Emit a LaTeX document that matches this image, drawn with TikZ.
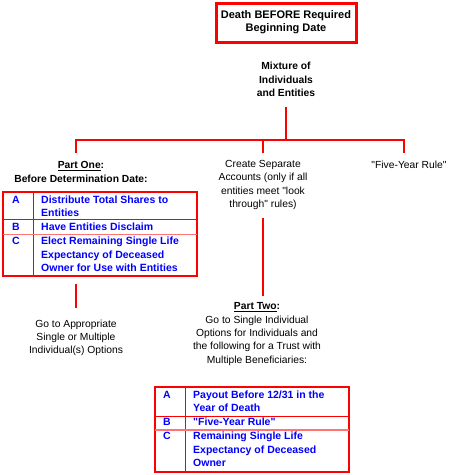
\documentclass[tikz,border=0pt]{standalone}
\usepackage{fontspec}
\setmainfont{Liberation Sans}[Ligatures=TeXOff]
\usetikzlibrary{positioning}

\begin{document}
\begin{tikzpicture}[x=1pt,y=-1pt,
    txt/.style={align=center,inner sep=0pt,font=\fontsize{10.3}{13.3}\selectfont},
    hd/.style={align=center,inner sep=0pt,font=\fontsize{10.3}{13.3}\selectfont\bfseries},
    cell/.style={anchor=west,align=left,inner sep=0pt,text=blue,font=\fontsize{10.5}{13.3}\selectfont\bfseries},
    link/.style={red,line width=2pt},
    grid/.style={red,line width=0.8pt}]
    \useasboundingbox (0,0) rectangle (450,475);
    % top of the chart
    \node[draw=red,line width=3pt,minimum width=140pt,minimum height=39pt,align=center,inner sep=0pt,font=\fontsize{11}{13.3}\selectfont\bfseries] (death) at (286,22.5) {Death BEFORE Required\\Beginning Date};
    \node[hd] (mix) at (286,79.5) {Mixture of\\Individuals\\and Entities};
    \coordinate (fork) at (286,140);
    \coordinate (one) at (76,153);
    \coordinate (sep) at (263,153);
    \coordinate (five) at (404,153);
    \draw[link] (fork |- 0,107) -- (fork);
    \draw[link] (one) |- (fork) -| (five);
    \draw[link] (sep) -- (sep |- fork);
        % three branches
        \node[hd] (partone) at (81,172) {\underline{Part One}:\\Before Determination Date:};
        \node[txt] (create) at (263,185) {Create Separate\\Accounts (only if all\\entities meet "look\\through" rules)};
        \node[txt] (rule) at (409,165) {"Five-Year Rule"};
        % table one
        \draw[red,line width=2pt] (3,192) rectangle (197,276);
        \draw[grid] (33,192) -- (33,276);
        \draw[grid] (3,219.5) -- (197,219.5);
        \draw[red!55,line width=1.2pt] (3,234.5) -- (197,234.5);
        \node[cell] (oneA) at (12,200) {A};
        \node[cell] (oneAt) at (41,206.5) {Distribute Total Shares to\\Entities};
        \node[cell] (oneB) at (12,227) {B};
        \node[cell] (oneBt) at (41,227) {Have Entities Disclaim};
        \node[cell] (oneC) at (12,241) {C};
        \node[cell] (oneCt) at (41,254.5) {Elect Remaining Single Life\\Expectancy of Deceased\\Owner for Use with Entities};
    \coordinate (down) at (263,296);
    \draw[link] (263,218) -- (down);
    \draw[link] (76,284) -- (76,308);
        \node[txt] (goto) at (76,338) {Go to Appropriate\\Single or Multiple\\Individual(s) Options};
        \node[txt] (parttwo) at (257,334) {\textbf{\underline{Part Two}:}\\Go to Single Individual\\Options for Individuals and\\the following for a Trust with\\Multiple Beneficiaries:};
        % table two
        \draw[red,line width=2pt] (155,387) rectangle (349,472);
        \draw[grid] (185,387) -- (185,472);
        \draw[grid] (155,416) -- (349,416);
        \draw[red!55,line width=1.2pt] (155,430) -- (349,430);
        \node[cell] (twoA) at (163,395) {A};
        \node[cell] (twoAt) at (193,401.5) {Payout Before 12/31 in the\\Year of Death};
        \node[cell] (twoB) at (163,422) {B};
        \node[cell] (twoBt) at (193,422) {"Five-Year Rule"};
        \node[cell] (twoC) at (163,436) {C};
        \node[cell] (twoCt) at (193,449.5) {Remaining Single Life\\Expectancy of Deceased\\Owner};
\end{tikzpicture}
\end{document}
